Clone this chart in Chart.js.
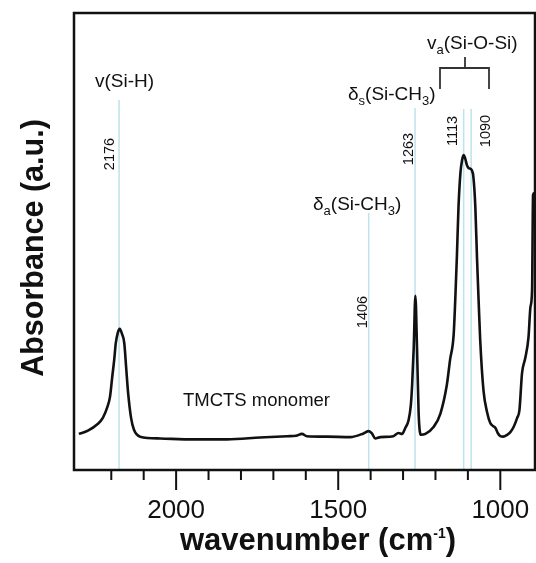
<!DOCTYPE html>
<html lang="en">
<head>
<meta charset="UTF-8" />
<title>TMCTS monomer – IR absorbance</title>
<script src="https://cdn.jsdelivr.net/npm/chart.js@4"></script>
<style>
  html, body { margin: 0; padding: 0; background: #fff; }
  canvas { display: block; }
</style>
</head>
<body>
<canvas id="irChart" width="536" height="563"></canvas>
<script>
// ======================================================
// Spectrum (a.u., 0 = frame bottom, 1 = frame top)
// ======================================================
const wavenumber = [
  2300, 2272, 2243, 2226, 2212, 2204, 2197, 2191, 2186, 2180,
  2174, 2167, 2160, 2154, 2148, 2139, 2130, 2111, 2049, 1947,
  1843, 1741, 1657, 1630, 1612, 1597, 1534, 1463, 1422, 1406,
  1396, 1386, 1370, 1330, 1314, 1303, 1293, 1283, 1276, 1272,
  1267, 1262, 1257, 1252, 1245, 1231, 1206, 1185, 1165, 1155,
  1144, 1139, 1134, 1129, 1123, 1118, 1113, 1108, 1103, 1098,
  1088, 1083, 1077, 1072, 1067, 1062, 1052, 1041, 1031, 1022,
  1015, 1008, 1000, 991, 979, 969, 959, 948, 941, 933,
  923, 913, 907, 902, 899, 895
];
const absorbance = [
  0.079, 0.086, 0.100, 0.114, 0.138, 0.160, 0.204, 0.241, 0.278, 0.300,
  0.309, 0.298, 0.278, 0.223, 0.168, 0.114, 0.088, 0.073, 0.069, 0.067,
  0.067, 0.071, 0.074, 0.075, 0.079, 0.074, 0.073, 0.072, 0.080, 0.085,
  0.080, 0.069, 0.072, 0.074, 0.081, 0.079, 0.092, 0.109, 0.142, 0.186,
  0.269, 0.381, 0.269, 0.125, 0.077, 0.079, 0.094, 0.123, 0.186, 0.241,
  0.295, 0.372, 0.466, 0.575, 0.650, 0.678, 0.689, 0.681, 0.667, 0.661,
  0.656, 0.641, 0.575, 0.466, 0.372, 0.284, 0.175, 0.127, 0.103, 0.096,
  0.092, 0.081, 0.074, 0.073, 0.077, 0.083, 0.094, 0.114, 0.131, 0.212,
  0.245, 0.291, 0.357, 0.394, 0.602, 0.606
];

// assigned peak positions (cm-1)
const peakPositions = [2176, 1406, 1263, 1113, 1090];
const peakLabels = ["2176", "1406", "1263", "1113", "1090"];

// labelled x ticks
const tickLabels = [2000, 1500, 1000];

const FONT = "'Liberation Sans', Arial, Helvetica, sans-serif";
const INK = "#111";
const MARKER = "rgb(190, 226, 238)";

// --- where the peak lines stop / their numbers sit (px) ---
const peakLayout = {
  2176: { top: 100, dx: -5.5, cy: 154 },
  1406: { top: 213, dx: -1.5, cy: 312 },
  1263: { top: 108, dx: -2,   cy: 149 },
  1113: { top: 109, dx: -6.5, cy: 131 },
  1090: { top: 109, dx: 19,   cy: 131 },
};

// --- band assignments (rich text: [text, "sub"|"sup"]) ---
const notes = [
  { parts: [["v(Si-H)"]], x: 95, y: 87, size: 19 },
  { parts: [["δ"], ["s", "sub"], ["(Si-CH"], ["3", "sub"], [")"]], x: 348, y: 100, size: 19 },
  { parts: [["v"], ["a", "sub"], ["(Si-O-Si)"]], x: 427, y: 49, size: 19 },
  { parts: [["δ"], ["a", "sub"], ["(Si-CH"], ["3", "sub"], [")"]], x: 313, y: 210, size: 19 },
  { parts: [["TMCTS monomer"]], x: 183, y: 406, size: 18.5 },
];

function partFont(size, kind, weight) {
  const s = kind === "sup" ? Math.round(size * 0.45) : kind ? Math.round(size * 0.68) : size;
  return `${weight || "normal"} ${s}px ${FONT}`;
}

function richWidth(ctx, parts, size, weight) {
  let w = 0;
  for (const [txt, kind] of parts) {
    ctx.font = partFont(size, kind, weight);
    w += ctx.measureText(txt).width;
  }
  return w;
}

function drawRich(ctx, parts, x, y, size, weight) {
  let cx = x;
  for (const [txt, kind] of parts) {
    const dy = kind === "sub" ? size * 0.27 : kind === "sup" ? -size * 0.4 : 0;
    ctx.font = partFont(size, kind, weight);
    ctx.fillText(txt, cx, y + dy);
    cx += ctx.measureText(txt).width;
  }
}

// light-blue peak lines, under the trace
const peakLines = {
  id: "peakLines",
  beforeDatasetsDraw(chart) {
    const { ctx, chartArea, scales } = chart;
    ctx.save();
    ctx.strokeStyle = MARKER;
    ctx.lineWidth = 1.5;
    peakPositions.forEach((p) => {
      const px = scales.x.getPixelForValue(p);
      ctx.beginPath();
      ctx.moveTo(px, peakLayout[p].top);
      ctx.lineTo(px, chartArea.bottom);
      ctx.stroke();
    });
    ctx.restore();
  },
};

// frame, tick marks, titles, annotations
const decorations = {
  id: "decorations",
  afterDraw(chart) {
    const { ctx, chartArea: a, scales } = chart;
    const xs = scales.x;
    ctx.save();

    // frame
    ctx.strokeStyle = INK;
    ctx.lineWidth = 2.5;
    ctx.strokeRect(a.left, a.top, a.right - a.left, a.bottom - a.top);

    // ticks every 100, long ones every 500
    ctx.lineWidth = 2;
    xs.ticks.forEach((t) => {
      if (t.value % 100 !== 0) return;
      const px = xs.getPixelForValue(t.value);
      const len = t.value % 500 === 0 ? 20 : 10;
      ctx.beginPath();
      ctx.moveTo(px, a.bottom);
      ctx.lineTo(px, a.bottom + len);
      ctx.stroke();
    });

    ctx.fillStyle = INK;
    ctx.textBaseline = "alphabetic";

    // x title with superscript
    const xt = [["wavenumber (cm"], ["-1", "sup"], [")"]];
    ctx.textAlign = "left";
    drawRich(ctx, xt, 180, 550, 31, "bold");

    // y title
    ctx.save();
    ctx.translate(43, 248);
    ctx.rotate(-Math.PI / 2);
    ctx.textAlign = "center";
    ctx.font = `bold 30.5px ${FONT}`;
    ctx.fillText("Absorbance (a.u.)", 0, 0);
    ctx.restore();

    // peak numbers, rotated
    ctx.font = `14.5px ${FONT}`;
    peakPositions.forEach((p, i) => {
      const L = peakLayout[p];
      const px = xs.getPixelForValue(p);
      ctx.save();
      ctx.translate(px + L.dx, L.cy);
      ctx.rotate(-Math.PI / 2);
      ctx.textAlign = "center";
      ctx.fillText(peakLabels[i], 0, 0);
      ctx.restore();
    });

    // assignments
    ctx.textAlign = "left";
    notes.forEach((n) => drawRich(ctx, n.parts, n.x, n.y, n.size));

    // bracket over the Si-O-Si pair
    ctx.strokeStyle = "#333";
    ctx.lineWidth = 1.8;
    ctx.beginPath();
    ctx.moveTo(465, 57);
    ctx.lineTo(465, 68);
    ctx.moveTo(440, 89);
    ctx.lineTo(440, 68);
    ctx.lineTo(489, 68);
    ctx.lineTo(489, 89);
    ctx.stroke();

    ctx.restore();
  },
};

new Chart(document.getElementById("irChart"), {
  type: "line",
  data: {
    datasets: [{
      data: wavenumber.map((w, i) => ({ x: w, y: absorbance[i] })),
      borderColor: INK,
      borderWidth: 2.6,
      pointRadius: 0,
      cubicInterpolationMode: "monotone",
      fill: false,
    }],
  },
  options: {
    responsive: false,
    devicePixelRatio: 1,
    animation: false,
    events: [],
    layout: { padding: { left: 74, right: 1, top: 13, bottom: 0 } },
    plugins: { legend: { display: false }, tooltip: { enabled: false } },
    scales: {
      x: {
        type: "linear",
        reverse: true,
        min: 893,
        max: 2315,
        afterFit: (s) => { s.height = 93; },
        border: { display: false },
        // grid hidden; tickLength only pushes the labels down
        grid: { display: false, drawTicks: true, tickLength: 25 },
        ticks: {
          stepSize: 100,
          autoSkip: false,
          maxRotation: 0,
          padding: 0,
          color: INK,
          font: { family: FONT, size: 26 },
          callback: (v) => (tickLabels.includes(v) ? String(v) : ""),
        },
      },
      y: { display: false, min: 0, max: 1 },
    },
  },
  plugins: [peakLines, decorations],
});
</script>
</body>
</html>
